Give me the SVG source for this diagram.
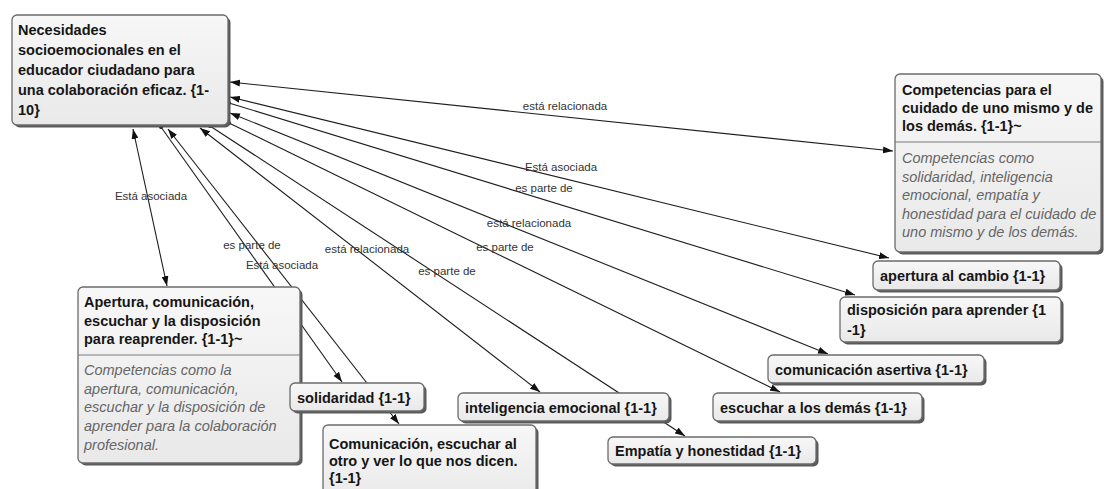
<svg xmlns="http://www.w3.org/2000/svg" width="1107" height="489" viewBox="0 0 1107 489">
<defs>
<linearGradient id="g" x1="0" y1="0" x2="0" y2="1"><stop offset="0" stop-color="#f7f7f7"/><stop offset="1" stop-color="#e9e9e9"/></linearGradient>
<marker id="arr" viewBox="0 0 10 7" refX="10" refY="3.5" markerWidth="10" markerHeight="7" markerUnits="userSpaceOnUse" orient="auto-start-reverse"><path d="M0,0 L10,3.5 L0,7 z" fill="#111"/></marker>
<marker id="dot" viewBox="0 0 4 4" refX="2" refY="2" markerWidth="4" markerHeight="4" markerUnits="userSpaceOnUse"><circle cx="2" cy="2" r="2" fill="#111"/></marker>
</defs>
<style>
.sh{fill:#5a5a5a}
.bx{fill:url(#g);stroke:#6b6b6b;stroke-width:1.3}
.dv{stroke:#7a7a7a;stroke-width:1.2}
.t{font-family:"Liberation Sans",Arial,sans-serif;font-weight:bold;font-size:14.5px;fill:#161616}
.i{font-family:"Liberation Sans",Arial,sans-serif;font-style:italic;font-size:14.5px;fill:#666}
.l{font-family:"Liberation Sans",Arial,sans-serif;font-size:11.5px;fill:#333;text-anchor:middle}
.c{stroke:#1e1e1e;stroke-width:1.1;fill:none}
.bi{marker-start:url(#arr);marker-end:url(#arr)}
.di{marker-start:url(#dot);marker-end:url(#arr)}
</style>
<rect width="1107" height="489" fill="#fff"/>
<g id="connectors">
<line class="c bi" x1="230" y1="82" x2="893" y2="151"/>
<line class="c bi" x1="230" y1="97" x2="889" y2="258"/>
<line class="c di" x1="229" y1="103" x2="855" y2="295"/>
<line class="c bi" x1="230" y1="113" x2="828" y2="354"/>
<line class="c di" x1="229" y1="123" x2="780" y2="392"/>
<line class="c bi" x1="133" y1="129" x2="167" y2="286"/>
<line class="c di" x1="161" y1="127" x2="342" y2="382"/>
<line class="c bi" x1="168" y1="129" x2="399" y2="424"/>
<line class="c bi" x1="200" y1="128" x2="540" y2="392"/>
<line class="c di" x1="210" y1="126" x2="685" y2="436"/>
<text class="l" x="565" y="110">está relacionada</text>
<text class="l" x="561" y="171">Está asociada</text>
<text class="l" x="544" y="192">es parte de</text>
<text class="l" x="529" y="227">está relacionada</text>
<text class="l" x="505" y="251">es parte de</text>
<text class="l" x="151" y="200">Está asociada</text>
<text class="l" x="252" y="249">es parte de</text>
<text class="l" x="282" y="269">Está asociada</text>
<text class="l" x="367" y="253">está relacionada</text>
<text class="l" x="447" y="275">es parte de</text>
</g>
<g id="n-main">
<rect class="sh" x="14.5" y="17.5" width="216" height="110" rx="5"/>
<rect class="bx" x="12" y="15" width="216" height="110" rx="5"/>
<text class="t" x="18" y="35">Necesidades</text>
<text class="t" x="18" y="55">socioemocionales en el</text>
<text class="t" x="18" y="75">educador ciudadano para</text>
<text class="t" x="18" y="95">una colaboración eficaz. {1-</text>
<text class="t" x="18" y="115">10}</text>
</g>
<g id="n-competencias">
<rect class="sh" x="897.5" y="76.5" width="206" height="178" rx="5"/>
<rect class="bx" x="895" y="74" width="206" height="178" rx="5"/>
<line class="dv" x1="895" y1="142" x2="1101" y2="142"/>
<text class="t" x="902" y="95">Competencias para el</text>
<text class="t" x="902" y="113">cuidado de uno mismo y de</text>
<text class="t" x="902" y="131">los demás. {1-1}~</text>
<text class="i" x="902" y="163">Competencias como</text>
<text class="i" x="902" y="181.5">solidaridad, inteligencia</text>
<text class="i" x="902" y="200">emocional, empatía y</text>
<text class="i" x="902" y="218.5">honestidad para el cuidado de</text>
<text class="i" x="902" y="237">uno mismo y de los demás.</text>
</g>
<g id="n-apertura">
<rect class="sh" x="80.5" y="289.5" width="222" height="176" rx="5"/>
<rect class="bx" x="78" y="287" width="222" height="176" rx="5"/>
<line class="dv" x1="78" y1="355" x2="300" y2="355"/>
<text class="t" x="84" y="307">Apertura, comunicación,</text>
<text class="t" x="84" y="325.5">escuchar y la disposición</text>
<text class="t" x="84" y="344">para reaprender. {1-1}~</text>
<text class="i" x="84" y="375">Competencias como la</text>
<text class="i" x="84" y="393.5">apertura, comunicación,</text>
<text class="i" x="84" y="412">escuchar y la disposición de</text>
<text class="i" x="84" y="431">aprender para la colaboración</text>
<text class="i" x="84" y="450">profesional.</text>
</g>
<g id="n-apertura-cambio">
<rect class="sh" x="875.5" y="263.5" width="187" height="29" rx="5"/>
<rect class="bx" x="873" y="261" width="187" height="29" rx="5"/>
<text class="t" x="880" y="280.5">apertura al cambio {1-1}</text>
</g>
<g id="n-disposicion">
<rect class="sh" x="842.5" y="299.5" width="221" height="45" rx="5"/>
<rect class="bx" x="840" y="297" width="221" height="45" rx="5"/>
<text class="t" x="847" y="315">disposición para aprender {1</text>
<text class="t" x="847" y="335">-1}</text>
</g>
<g id="n-com-asertiva">
<rect class="sh" x="770.5" y="357.5" width="216" height="28" rx="5"/>
<rect class="bx" x="768" y="355" width="216" height="28" rx="5"/>
<text class="t" x="775" y="375">comunicación asertiva {1-1}</text>
</g>
<g id="n-escuchar">
<rect class="sh" x="715.5" y="395.5" width="209" height="28" rx="5"/>
<rect class="bx" x="713" y="393" width="209" height="28" rx="5"/>
<text class="t" x="720" y="412.5">escuchar a los demás {1-1}</text>
</g>
<g id="n-inteligencia">
<rect class="sh" x="460.5" y="395.5" width="211" height="28" rx="5"/>
<rect class="bx" x="458" y="393" width="211" height="28" rx="5"/>
<text class="t" x="465" y="413">inteligencia emocional {1-1}</text>
</g>
<g id="n-empatia">
<rect class="sh" x="610.5" y="439.5" width="208" height="27" rx="5"/>
<rect class="bx" x="608" y="437" width="208" height="27" rx="5"/>
<text class="t" x="615" y="456">Empatía y honestidad {1-1}</text>
</g>
<g id="n-solidaridad">
<rect class="sh" x="292.5" y="385.5" width="134" height="28" rx="5"/>
<rect class="bx" x="290" y="383" width="134" height="28" rx="5"/>
<text class="t" x="297" y="403">solidaridad {1-1}</text>
</g>
<g id="n-comunicacion">
<rect class="sh" x="325.5" y="427.5" width="213" height="80" rx="5"/>
<rect class="bx" x="323" y="425" width="213" height="80" rx="5"/>
<text class="t" x="329" y="449">Comunicación, escuchar al</text>
<text class="t" x="329" y="466">otro y ver lo que nos dicen.</text>
<text class="t" x="329" y="483">{1-1}</text>
</g>
</svg>
